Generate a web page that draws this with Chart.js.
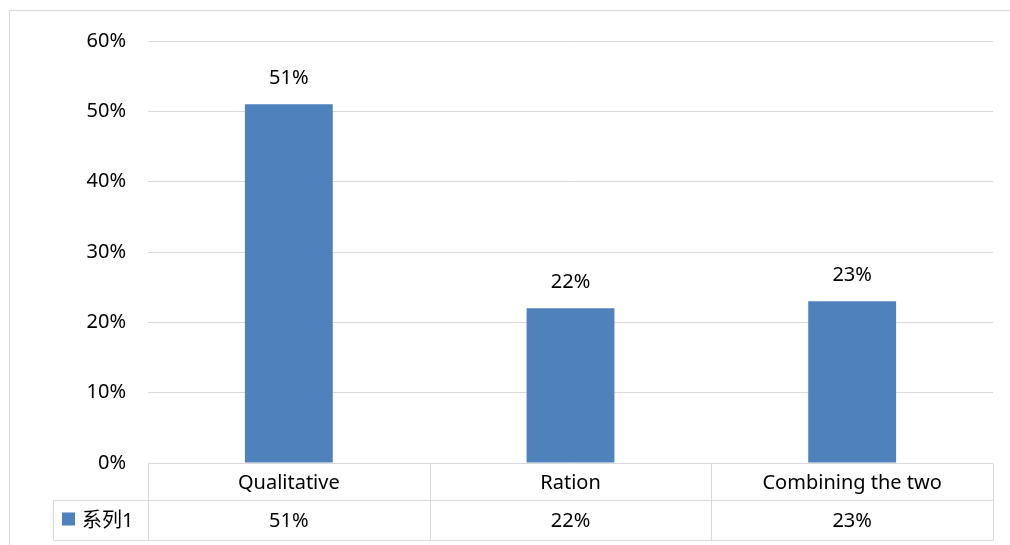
<!DOCTYPE html>
<html>
<head>
<meta charset="utf-8">
<script src="https://cdn.jsdelivr.net/npm/chart.js@4"></script>
<style>
  html,body{margin:0;padding:0;background:#fff;}
  #wrap{width:1010px;height:545px;position:relative;}
</style>
</head>
<body>
<div id="wrap"><canvas id="chart" width="1010" height="545"></canvas></div>
<script>
// ---- Data ----
const categories = ['Qualitative', 'Ration', 'Combining the two'];
const seriesName = '系列1';
const seriesValues = [0.51, 0.22, 0.23];
const yTicks = [0, 0.1, 0.2, 0.3, 0.4, 0.5, 0.6];

const FONT = '"Noto Sans", "Noto Sans CJK SC", sans-serif';
const FS = 20;
const BAR = '#4f81bd';
const LINE = '#d9d9d9';
const pct = (v) => Math.round(v * 100) + '%';

// value labels above bars
const barLabels = {
  id: 'barLabels',
  afterDatasetsDraw(chart){
    const ctx = chart.ctx;
    const meta = chart.getDatasetMeta(0);
    ctx.save();
    ctx.font = FS + 'px ' + FONT;
    ctx.fillStyle = '#000';
    ctx.textAlign = 'center';
    ctx.textBaseline = 'middle';
    meta.data.forEach((bar, i) => ctx.fillText(pct(seriesValues[i]), bar.x, bar.y - 26));
    ctx.restore();
  }
};

// outer frame + data table under the plot
const dataTable = {
  id: 'dataTable',
  afterDraw(chart){
    const ctx = chart.ctx;
    const ca = chart.chartArea;
    const xs = chart.scales.x;
    const top = Math.round(ca.bottom) + 0.5;
    const mid = top + 37;
    const bot = top + 77;
    const legLeft = 53.5;
    const colW = (ca.right - ca.left) / categories.length;
    ctx.save();
    ctx.strokeStyle = LINE;
    ctx.lineWidth = 1;
    // outer chart border (runs off right/bottom)
    ctx.strokeRect(9.5, 10.5, 1100, 600);
    ctx.beginPath();
    ctx.moveTo(ca.left, top); ctx.lineTo(ca.right, top);
    ctx.moveTo(legLeft, mid); ctx.lineTo(ca.right, mid);
    ctx.moveTo(legLeft, bot); ctx.lineTo(ca.right, bot);
    for (let i = 0; i <= categories.length; i++){
      const x = Math.round(ca.left + i * colW) + 0.5;
      ctx.moveTo(x, top); ctx.lineTo(x, bot);
    }
    ctx.moveTo(legLeft, mid); ctx.lineTo(legLeft, bot);
    ctx.stroke();

    ctx.font = FS + 'px ' + FONT;
    ctx.fillStyle = '#000';
    ctx.textAlign = 'center';
    ctx.textBaseline = 'middle';
    categories.forEach((c, i) => {
      const x = xs.getPixelForValue(i);
      ctx.fillText(c, x, (top + mid) / 2 + 1);
      ctx.fillText(pct(seriesValues[i]), x, (mid + bot) / 2 + 1);
    });
    // legend key
    ctx.fillStyle = BAR;
    ctx.fillRect(62, mid + 12, 13, 13);
    ctx.fillStyle = '#000';
    ctx.textAlign = 'left';
    ctx.fillText(seriesName, 82, (mid + bot) / 2 + 1);
    ctx.restore();
  }
};

new Chart(document.getElementById('chart'), {
  type: 'bar',
  data: {
    labels: categories,
    datasets: [{
      label: seriesName,
      data: seriesValues,
      backgroundColor: BAR,
      borderWidth: 0,
      barPercentage: 0.312,
      categoryPercentage: 1
    }]
  },
  options: {
    responsive: false,
    animation: false,
    layout: { padding: { left: 0, right: 17, top: 41, bottom: 82 } },
    plugins: { legend: { display: false }, tooltip: { enabled: false } },
    scales: {
      x: {
        ticks: { display: false },
        grid: { display: false },
        border: { display: false },
        afterFit(s){ s.height = 0; }
      },
      y: {
        min: 0, max: 0.6,
        afterBuildTicks(s){ s.ticks = yTicks.map(v => ({ value: v })); },
        afterFit(s){ s.width = 148; },
        ticks: {
          padding: 22,
          color: '#000',
          font: { family: FONT, size: FS },
          callback: (v) => pct(v)
        },
        grid: {
          color: (c) => c.tick && c.tick.value === 0 ? 'rgba(0,0,0,0)' : LINE,
          drawTicks: false
        },
        border: { display: false }
      }
    }
  },
  plugins: [barLabels, dataTable]
});
</script>
</body>
</html>
